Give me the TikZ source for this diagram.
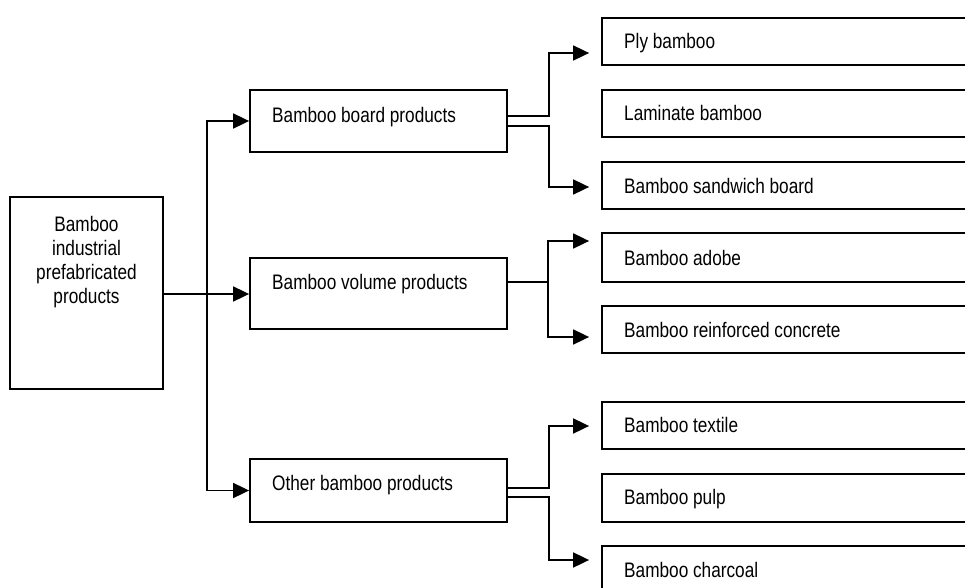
\documentclass[tikz,border=0pt]{standalone}
\usepackage{fontspec}
\setmainfont{Liberation Sans}[FakeStretch=0.82]
\usetikzlibrary{arrows.meta,calc}
\begin{document}
\begin{tikzpicture}[x=1pt,y=-1pt,
  box/.style={draw,line width=1.8pt,rectangle,inner sep=0pt},
  midbox/.style={box,minimum width=257pt},
  leafbox/.style={box,minimum width=388pt,minimum height=47pt},
  lbl/.style={inner sep=0pt,font=\fontsize{21}{24}\selectfont,anchor=base west},
  link/.style={line width=1.8pt},
  arr/.style={link,-{Triangle[length=16pt,width=15pt]}}]
\useasboundingbox (0,0) rectangle (965,588);
\clip (0,0) rectangle (965,588);

% root
\node[box,minimum width=153pt,minimum height=192pt] (main) at (86.5,293) {};
\node[inner sep=0pt,anchor=north,align=center,font=\fontsize{21}{24}\selectfont]
  (mainT) at (86.5,216.5) {Bamboo\\industrial\\prefabricated\\products};

% product groups
\node[midbox,minimum height=62pt] (board)  at (378.5,121)   {};
\node[midbox,minimum height=71pt] (volume) at (378.5,293.5) {};
\node[midbox,minimum height=63pt] (other)  at (378.5,490.5) {};
\node[lbl] (boardT)  at (272,123) {Bamboo board products};
\node[lbl] (volumeT) at (272,289) {Bamboo volume products};
\node[lbl] (otherT)  at (272,490) {Other bamboo products};

% individual products
\node[leafbox] (ply)        at (796,41.5)  {};
\node[leafbox] (laminate)   at (796,113.5) {};
\node[leafbox] (sandwich)   at (796,185.5) {};
\node[leafbox,minimum height=49pt] (adobe) at (796,257.5) {};
\node[leafbox] (reinforced) at (796,329.5) {};
\node[leafbox] (textile)    at (796,425.5) {};
\node[leafbox,minimum height=48pt] (pulp) at (796,498) {};
\node[leafbox] (charcoal)   at (796,569.5) {};
\node[lbl] (plyT)        at (624,48.5)  {Ply bamboo};
\node[lbl] (laminateT)   at (624,120.5) {Laminate bamboo};
\node[lbl] (sandwichT)   at (624,193)   {Bamboo sandwich board};
\node[lbl] (adobeT)      at (624,265)   {Bamboo adobe};
\node[lbl] (reinforcedT) at (624,337)   {Bamboo reinforced concrete};
\node[lbl] (textileT)    at (624,432.5) {Bamboo textile};
\node[lbl] (pulpT)       at (624,504)   {Bamboo pulp};
\node[lbl] (charcoalT)   at (624,577)   {Bamboo charcoal};

% root to groups
\coordinate (trunk) at (207,294);
\draw[arr] (main.east |- trunk) -- (volume.west |- trunk);
\draw[arr] (trunk) |- (board.west);
\draw[arr] (trunk) |- (other.west);

% board products
\draw[arr] ($(board.east)+(0,-5)$) -- ++(41,0) |- ([shift={(-12,11.5)}]ply.west);
\draw[arr] ($(board.east)+(0,5)$) -- ++(41,0) |- ([shift={(-12,1.5)}]sandwich.west);

% volume products
\coordinate (vsplit) at (548,282);
\draw[link] ($(volume.east)+(0,-11.5)$) -- (vsplit);
\draw[arr] (vsplit) |- ([shift={(-12,-16.5)}]adobe.west);
\draw[arr] (vsplit) |- ([shift={(-12,7.5)}]reinforced.west);

% other products
\draw[arr] ($(other.east)+(0,-2.5)$) -- ++(41,0) |- ([shift={(-12,0.5)}]textile.west);
\draw[arr] ($(other.east)+(0,6.5)$) -- ++(41,0) |- ([shift={(-12,-9.5)}]charcoal.west);
\end{tikzpicture}
\end{document}
